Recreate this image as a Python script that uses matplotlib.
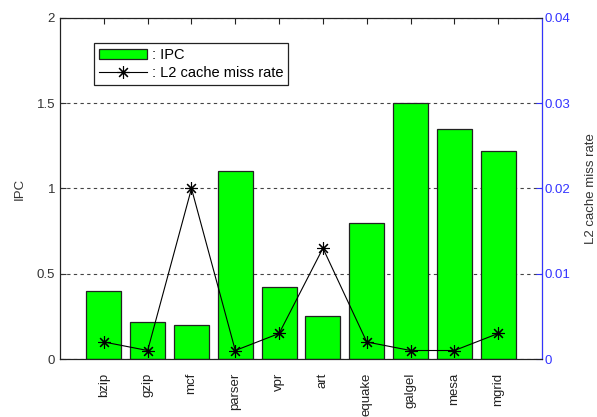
import numpy as np
import matplotlib.pyplot as plt

plt.rcParams['font.family'] = ['Liberation Sans', 'DejaVu Sans']
plt.rcParams['font.size'] = 9.5

benchmarks = ['bzip', 'gzip', 'mcf', 'parser', 'vpr', 'art', 'equake', 'galgel', 'mesa', 'mgrid']
ipc = [0.40, 0.22, 0.20, 1.10, 0.42, 0.25, 0.80, 1.50, 1.35, 1.22]
l2_miss = [0.002, 0.001, 0.020, 0.001, 0.003, 0.013, 0.002, 0.001, 0.001, 0.003]

x = np.arange(1, len(benchmarks) + 1)

fig = plt.figure(figsize=(5.97, 4.17), dpi=100)
ax1 = fig.add_axes([0.1005, 0.139, 0.8075, 0.818])
ax2 = ax1.twinx()

bars = ax1.bar(x, ipc, width=0.8, color='#00ff00', edgecolor='#222222', linewidth=0.9, zorder=2)
ax1.set_xlim(0, 11)
ax1.set_ylim(0, 2)
ax1.set_yticks([0, 0.5, 1, 1.5, 2])
ax1.set_yticklabels(['0', '0.5', '1', '1.5', '2'])
ax1.set_xticks(x)
ax1.set_xticklabels(benchmarks, rotation=90)
ax1.tick_params(axis='x', direction='in', top=True, length=4, pad=10, colors='#222222')
ax1.tick_params(axis='y', direction='in', length=4, colors='#333333')
ax1.set_axisbelow(True)
ax1.yaxis.grid(True, linestyle=(0, (3, 3)), color='#444444', linewidth=0.8)
ax1.set_ylabel('IPC', color='#333333', labelpad=8)

line, = ax2.plot(x, l2_miss, color='black', linewidth=0.8, marker=(8, 2, 0),
                 markersize=9, markeredgewidth=0.8)
ax2.set_ylim(0, 0.04)
ax2.set_yticks([0, 0.01, 0.02, 0.03, 0.04])
ax2.set_yticklabels(['0', '0.01', '0.02', '0.03', '0.04'])
ax2.tick_params(axis='y', direction='in', length=4, colors='#3333ff', pad=2)
ax2.set_ylabel('L2 cache miss rate', color='#333333', labelpad=10)
ax2.spines['right'].set_color('#3333ff')
ax2.spines['left'].set_color('#222222')
for s in ['top', 'bottom']:
    ax2.spines[s].set_color('#222222')

leg = ax2.legend([bars, line], [': IPC', ': L2 cache miss rate'], loc='upper left',
                 bbox_to_anchor=(0.062, 0.94), fancybox=False, framealpha=1,
                 edgecolor='#222222', handlelength=3.3, handletextpad=0.3,
                 borderpad=0.35, borderaxespad=0.3, labelspacing=0.3, fontsize=10.5)
leg.get_frame().set_linewidth(0.9)

fig.savefig('out.png', dpi=100, facecolor='white')
